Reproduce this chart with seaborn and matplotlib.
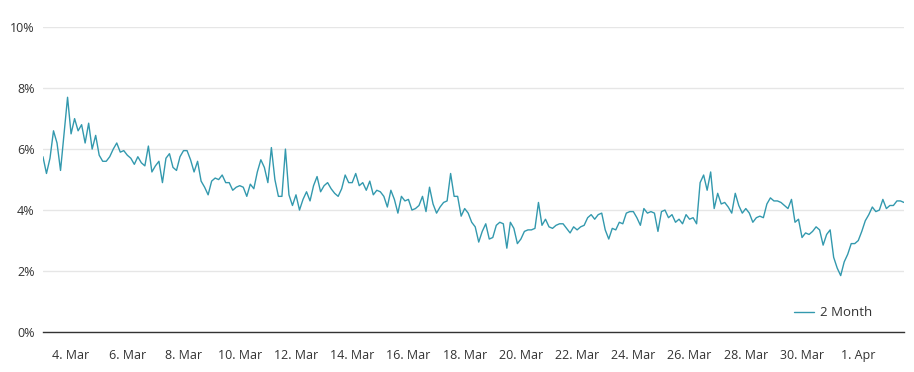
import matplotlib
matplotlib.use("Agg")
import matplotlib.pyplot as plt
import seaborn as sns
import pandas as pd

# ---- data ----
series_name = "2 Month"
start_time = "2024-03-03 00:00"
step_hours = 3
rate_2m = [
    5.75, 5.2, 5.7, 6.6, 6.2, 5.3, 6.5, 7.7,
    6.5, 7.0, 6.6, 6.8, 6.2, 6.85, 6.0, 6.45,
    5.8, 5.6, 5.6, 5.75, 6.0, 6.2, 5.9, 5.95,
    5.8, 5.7, 5.5, 5.75, 5.55, 5.45, 6.1, 5.25,
    5.45, 5.6, 4.9, 5.7, 5.85, 5.4, 5.3, 5.75,
    5.95, 5.95, 5.65, 5.25, 5.6, 4.95, 4.75, 4.5,
    4.95, 5.05, 5.0, 5.15, 4.9, 4.9, 4.65, 4.75,
    4.8, 4.75, 4.45, 4.85, 4.7, 5.25, 5.65, 5.4,
    4.9, 6.05, 5.0, 4.45, 4.45, 6.0, 4.5, 4.15,
    4.5, 4.0, 4.35, 4.6, 4.3, 4.8, 5.1, 4.6,
    4.8, 4.9, 4.7, 4.55, 4.45, 4.7, 5.15, 4.9,
    4.9, 5.2, 4.8, 4.9, 4.65, 4.95, 4.5, 4.65,
    4.6, 4.45, 4.1, 4.65, 4.35, 3.9, 4.45, 4.3,
    4.35, 4.0, 4.05, 4.15, 4.45, 3.95, 4.75, 4.2,
    3.9, 4.1, 4.25, 4.3, 5.2, 4.45, 4.45, 3.8,
    4.05, 3.9, 3.6, 3.45, 2.95, 3.3, 3.55, 3.05,
    3.1, 3.5, 3.6, 3.55, 2.75, 3.6, 3.4, 2.9,
    3.05, 3.3, 3.35, 3.35, 3.4, 4.25, 3.5, 3.7,
    3.45, 3.4, 3.5, 3.55, 3.55, 3.4, 3.25, 3.45,
    3.35, 3.45, 3.5, 3.75, 3.85, 3.7, 3.85, 3.9,
    3.35, 3.05, 3.4, 3.35, 3.6, 3.55, 3.9, 3.95,
    3.95, 3.75, 3.5, 4.05, 3.9, 3.95, 3.9, 3.3,
    3.95, 4.0, 3.75, 3.85, 3.6, 3.7, 3.55, 3.85,
    3.7, 3.75, 3.55, 4.9, 5.15, 4.65, 5.25, 4.05,
    4.55, 4.2, 4.25, 4.1, 3.9, 4.55, 4.15, 3.9,
    4.05, 3.9, 3.6, 3.75, 3.8, 3.75, 4.2, 4.4,
    4.3, 4.3, 4.25, 4.15, 4.05, 4.35, 3.6, 3.7,
    3.1, 3.25, 3.2, 3.3, 3.45, 3.35, 2.85, 3.2,
    3.35, 2.45, 2.1, 1.85, 2.3, 2.55, 2.9, 2.9,
    3.0, 3.3, 3.65, 3.85, 4.1, 3.95, 4.0, 4.35,
    4.05, 4.15, 4.15, 4.3, 4.3, 4.25,
]
x_tick_start = "2024-03-04"
x_tick_end = "2024-04-01"
x_tick_every_days = 2
y_ticks = [0, 2, 4, 6, 8, 10]

# ---- build frame ----
times = pd.date_range(start_time, periods=len(rate_2m), freq=f"{step_hours}h")
df = pd.DataFrame({"time": times, "rate": rate_2m, "series": series_name})

sns.set_style("white")
plt.rcParams["font.family"] = ["Open Sans", "DejaVu Sans"]

fig = plt.figure(figsize=(9.14, 3.72), dpi=100)
ax = fig.add_axes([0.047, 0.1075, 0.942, 0.8195])

line_color = "#3399ae"
sns.lineplot(data=df, x="time", y="rate", hue="series", palette=[line_color],
             linewidth=1.0, ax=ax)

ax.set_xlim(times[0], times[-1])
ax.set_ylim(0, 10)
ax.set_yticks(y_ticks)
ax.set_yticklabels([f"{v}%" for v in y_ticks])

tick_dates = pd.date_range(x_tick_start, x_tick_end, freq=f"{x_tick_every_days}D")
ax.set_xticks(tick_dates)
ax.set_xticklabels([f"{d.day}. {d.strftime('%b')}" for d in tick_dates])

ax.set_xlabel("")
ax.set_ylabel("")

ax.grid(axis="y", color="#e6e6e6", linewidth=1.0)
ax.grid(axis="x", visible=False)
ax.set_axisbelow(True)
for s in ["top", "right", "left"]:
    ax.spines[s].set_visible(False)
ax.spines["bottom"].set_color("#333333")
ax.spines["bottom"].set_linewidth(1.0)
ax.spines["bottom"].set_zorder(5)

ax.tick_params(axis="x", direction="out", length=7, width=1, color="#333333",
               labelsize=9, labelcolor="#333333", pad=5)
ax.tick_params(axis="y", length=0, labelsize=9, labelcolor="#333333", pad=6)

leg = ax.legend(loc="center left", bbox_to_anchor=(0.872, 0.063), frameon=False,
                handlelength=1.5, handletextpad=0.5, borderaxespad=0, borderpad=0,
                fontsize=9.5)
for t in leg.get_texts():
    t.set_color("#333333")

fig.savefig("out.png", dpi=100, facecolor="white")
